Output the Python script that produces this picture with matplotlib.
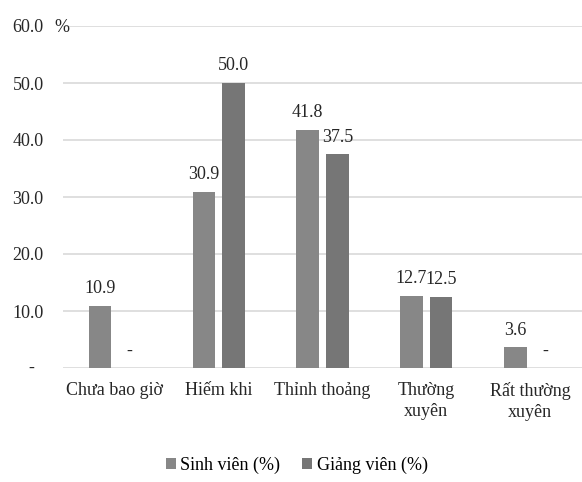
import numpy as np
import matplotlib.pyplot as plt

categories = ['Chưa bao giờ', 'Hiếm khi', 'Thỉnh thoảng', 'Thường\nxuyên', 'Rất thường\nxuyên']
sinh_vien = [10.9, 30.9, 41.8, 12.7, 3.6]
giang_vien = [0.0, 50.0, 37.5, 12.5, 0.0]
series_names = ['Sinh viên (%)', 'Giảng viên (%)']
y_ticks = [0, 10, 20, 30, 40, 50, 60]

plt.rcParams['font.family'] = ['Liberation Serif', 'DejaVu Serif']
plt.rcParams['font.size'] = 13

fig = plt.figure(figsize=(5.82, 4.82), dpi=100)
ax = fig.add_axes([63 / 582, 1 - 368 / 482, 519 / 582, 342 / 482])

x = np.arange(len(categories))
w = 0.217
off = 0.143
colors = ['#878787', '#767676']
b1 = ax.bar(x - off, sinh_vien, w, color=colors[0], label=series_names[0], zorder=3)
b2 = ax.bar(x + off, giang_vien, w, color=colors[1], label=series_names[1], zorder=3)

# value labels, zero shown as dash like excel accounting format
for bars, vals in [(b1, sinh_vien), (b2, giang_vien)]:
    for rect, v in zip(bars, vals):
        txt = '-' if v == 0 else f'{v:.1f}'
        ax.annotate(txt, (rect.get_x() + rect.get_width() / 2, v),
                    xytext=(0, 9), textcoords='offset points',
                    ha='center', va='baseline', fontsize=13, color='#262626')

ax.set_xlim(-0.5, len(categories) - 0.5)
ax.set_ylim(0, 60)
ax.set_yticks(y_ticks)
ax.set_yticklabels(['' if t == 0 else f'{t:.1f}' for t in y_ticks])
ax.annotate('-', xy=(0, 0), xycoords=('axes fraction', 'data'),
            xytext=(-23, 0), textcoords='offset points',
            ha='center', va='center', fontsize=13, color='#262626')
ax.set_xticks(x)
ax.set_xticklabels(categories, linespacing=1.35)
ax.tick_params(axis='both', length=0, labelsize=13, colors='#262626')
ax.tick_params(axis='y', pad=14)
ax.tick_params(axis='x', pad=10)

ax.grid(axis='y', color='#d9d9d9', linewidth=1.2, zorder=0)
for s in ax.spines.values():
    s.set_visible(False)

fig.text(54 / 582, 1 - 27 / 482, '%', fontsize=13, color='#262626', va='center')

fig.legend(handles=[b1, b2], loc='center', bbox_to_anchor=(0.51, 1 - 465 / 482),
           ncol=2, frameon=False, handlelength=0.55, handleheight=0.55,
           handletextpad=0.25, columnspacing=1.2, fontsize=13)

fig.savefig('out.png', dpi=100)
